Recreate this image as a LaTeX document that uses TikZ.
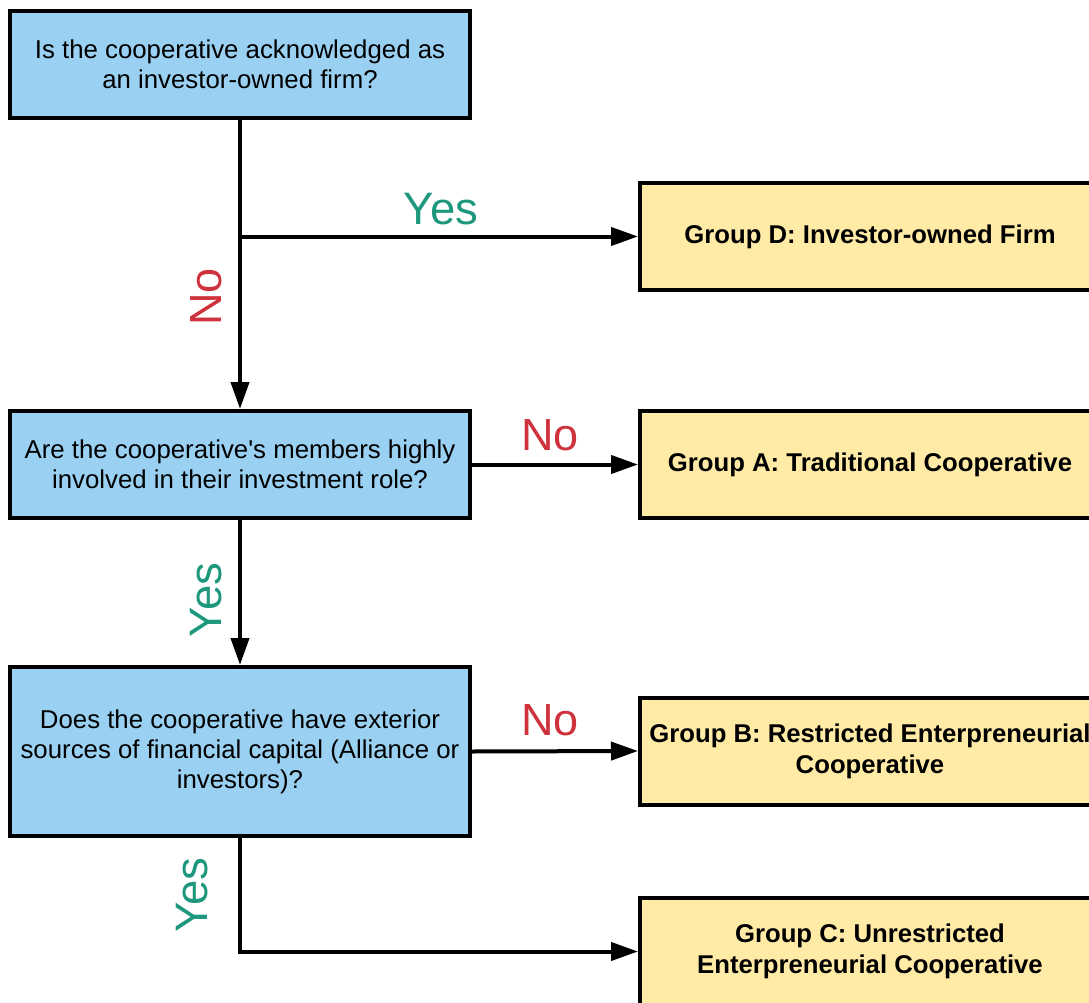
\documentclass[tikz,border=0pt]{standalone}
\usepackage{fontspec}
\setmainfont{Liberation Sans}
\usetikzlibrary{arrows.meta}
\definecolor{qblue}{RGB}{154,209,242}
\definecolor{gyellow}{RGB}{255,235,166}
\definecolor{yesgreen}{RGB}{30,152,125}
\definecolor{nored}{RGB}{206,50,60}
\tikzset{
  question/.style={draw=black, line width=4pt, fill=qblue, minimum width=460pt, align=center, inner sep=0pt,
    font=\fontsize{25.8}{30}\selectfont},
  group/.style={draw=black, line width=4pt, fill=gyellow, minimum width=460pt, minimum height=107pt, align=center, inner sep=0pt,
    font=\fontsize{25.7}{31}\selectfont\bfseries},
  conn/.style={line width=4pt, -{Triangle[length=27pt,width=18pt]}},
  yeslbl/.style={text=yesgreen, font=\fontsize{45.5}{45}\selectfont, inner sep=0pt},
  nolbl/.style={text=nored, font=\fontsize{45}{45}\selectfont, inner sep=0pt},
}
\begin{document}
\begin{tikzpicture}[x=1pt,y=-1pt]
\useasboundingbox (0,0) rectangle (1089,1003);
\clip (0,0) rectangle (1089,1003);
\node[question, minimum height=107pt] (q1) at (240,64.5) {Is the cooperative acknowledged as\\an investor-owned firm?};
\node[question, minimum height=107pt] (q2) at (240,464.5) {Are the cooperative\textquotesingle s members highly\\involved in their investment role?};
\node[question, minimum height=169pt] (q3) at (240,751.5) {Does the cooperative have exterior\\sources of financial capital (Alliance or\\investors)?};
\node[group] (gd) at (870,236.5) {Group D: Investor-owned Firm};
\node[group] (ga) at (870,464.5) {Group A: Traditional Cooperative};
\node[group] (gb) at (870,751) {Group B: Restricted Enterpreneurial\\Cooperative};
\node[group] (gc) at (870,951.5) {Group C: Unrestricted\\Enterpreneurial Cooperative};
\coordinate (j) at (240,236.5);
\draw[conn] (q1.south) -- (q2.north);
\draw[conn] (j) -- (gd.west);
\draw[conn] (q2.east) -- (ga.west);
\draw[conn] (q2.south) -- (q3.north);
\draw[conn] (q3.east) -- (gb.west);
\draw[conn] (q3.south) |- (gc.west);
\node[yeslbl] (l1) at (441,209) {Yes};
\node[nolbl, rotate=90] (l2) at (206,297) {No};
\node[nolbl] (l3) at (550,435) {No};
\node[yeslbl, rotate=90] (l4) at (206,600) {Yes};
\node[nolbl] (l5) at (550,720) {No};
\node[yeslbl, rotate=90] (l6) at (192,895) {Yes};
\end{tikzpicture}
\end{document}
